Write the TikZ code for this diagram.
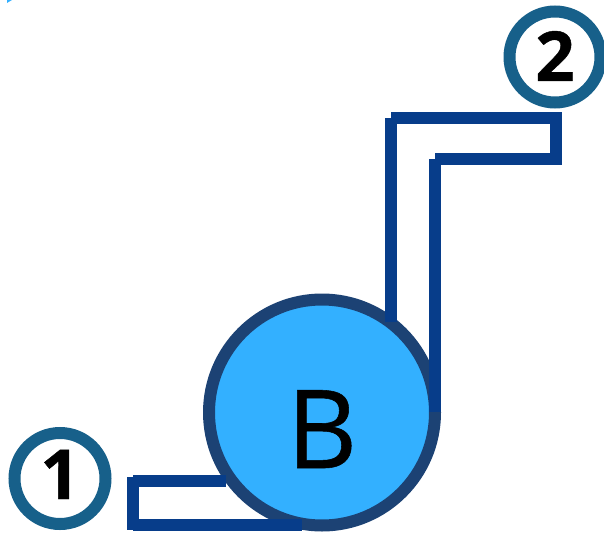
\documentclass[tikz,border=0pt]{standalone}
\usepackage{fontspec}
\setmainfont{Open Sans}
\newfontfamily\digitfont[FakeBold=0.6]{Open Sans Bold}
\newfontfamily\letterfont[FakeBold=0.5]{Open Sans}
\definecolor{ringteal}{HTML}{17608A}
\definecolor{ringnavy}{HTML}{1C4274}
\definecolor{pumpfill}{HTML}{33B0FF}
\definecolor{pipeblue}{HTML}{073D8A}
\newcommand{\dropped}[2]{\smash{\raisebox{-#1pt}{#2}}}
\tikzset{
  portnode/.style={circle,draw=ringteal,line width=12pt,fill=white,minimum size=91pt,inner sep=0pt,font=\fontsize{69}{69}\selectfont\digitfont},
  pumpnode/.style={circle,draw=ringnavy,line width=12pt,fill=pumpfill,minimum size=226pt,inner sep=0pt,font=\fontsize{109}{109}\selectfont\letterfont},
  pipe/.style={draw=pipeblue,line width=12pt,line cap=butt}
}
\begin{document}
\begin{tikzpicture}[x=1pt,y=-1pt]
\useasboundingbox (0,0) rectangle (604,532);
\fill[pumpfill] (7,0) -- (12,0) -- (7,3) -- cycle;
\node[pumpnode] (pump) at (322,412.5) {\dropped{55.5}{B}};
\node[portnode] (p1) at (60,478.5) {\dropped{20.5}{1}};
\node[portnode] (p2) at (555,57) {\dropped{24}{2}};
% inlet pipe
\coordinate (a1) at (226,480.5);
\coordinate (a2) at (133,480.5);
\coordinate (a3) at (133,477);
\coordinate (a4) at (133,530);
\coordinate (a5) at (133,525);
\coordinate (a6) at (302,525);
\draw[pipe] (a1) -- (a2);
\draw[pipe] (a3) -- (a4);
\draw[pipe] (a5) -- (a6);
% outlet pipe
\coordinate (b1) at (391,322);
\coordinate (b2) at (391,118);
\coordinate (b3) at (391,117.5);
\coordinate (b4) at (562,117.5);
\coordinate (b5) at (556,112);
\coordinate (b6) at (556,165);
\coordinate (b7) at (556,159);
\coordinate (b8) at (435,159);
\coordinate (b9) at (435,159);
\coordinate (b10) at (435,412);
\draw[pipe] (b1) -- (b2);
\draw[pipe] (b3) -- (b4);
\draw[pipe] (b5) -- (b6);
\draw[pipe] (b7) -- (b8);
\draw[pipe] (b9) -- (b10);
\end{tikzpicture}
\end{document}
